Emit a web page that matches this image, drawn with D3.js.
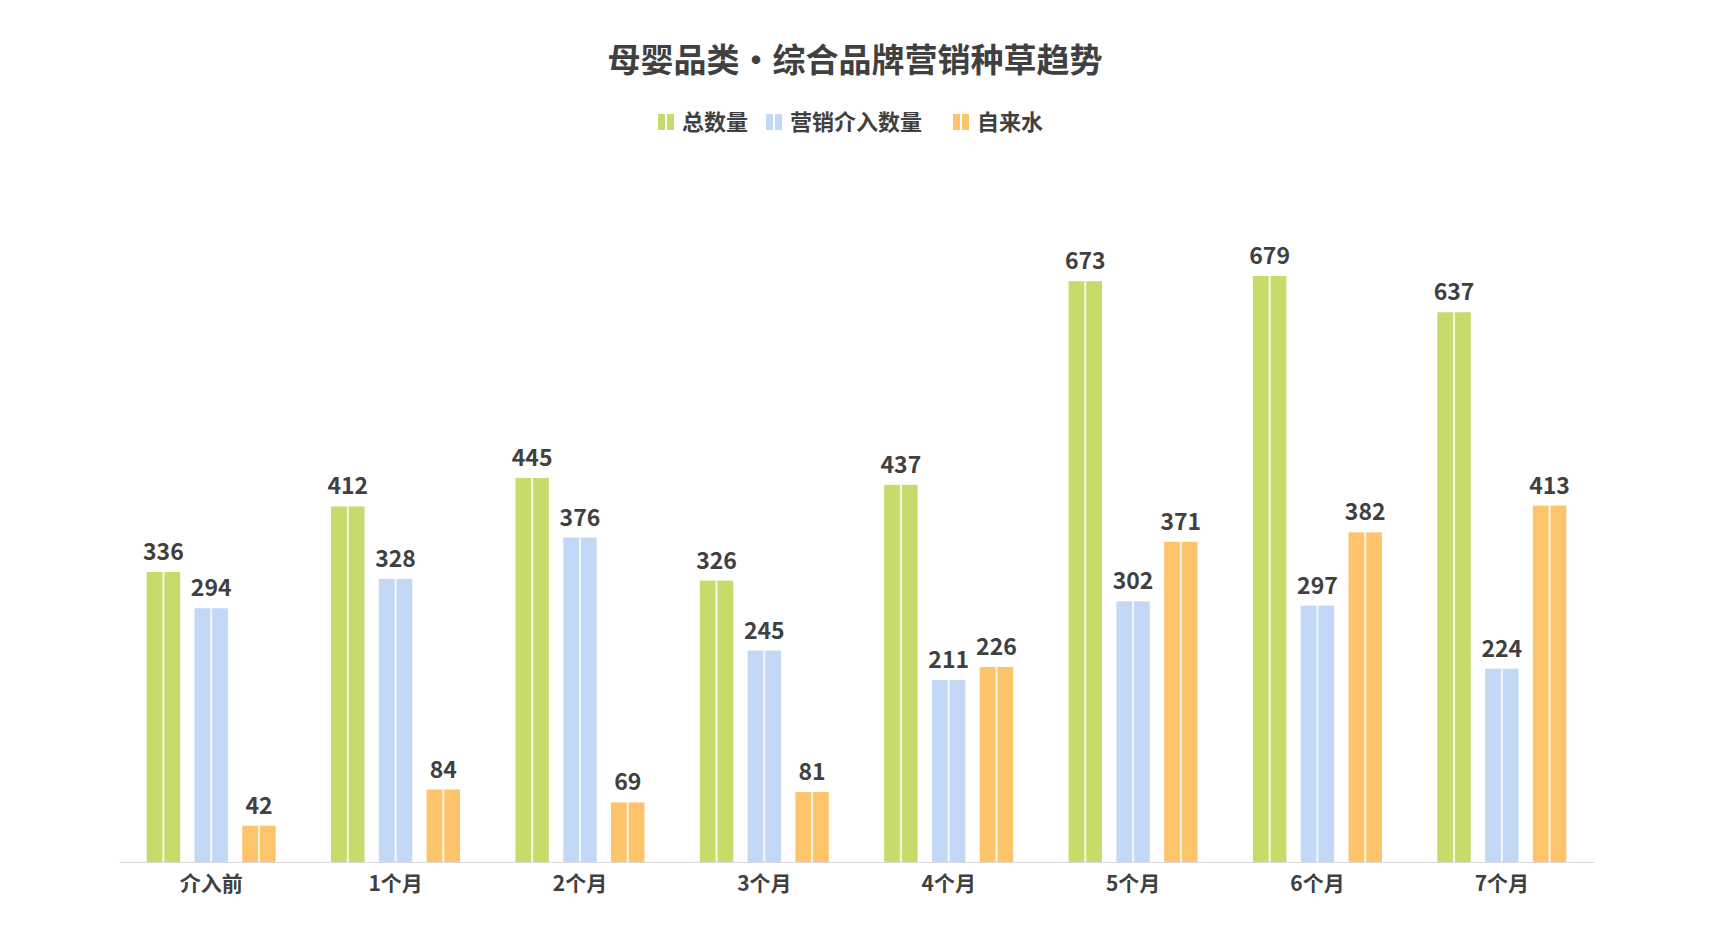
<!DOCTYPE html>
<html><head><meta charset="utf-8">
<script src="https://cdn.jsdelivr.net/npm/d3@7"></script>
<style>body{margin:0;background:#fff}text{font-family:"Noto Sans CJK SC","Noto Sans",sans-serif;font-weight:bold;fill:#404040}</style>
</head><body><svg id="c" width="1710" height="950"></svg>
<script>
const categories=["介入前","1个月","2个月","3个月","4个月","5个月","6个月","7个月"];
const seriesNames=["总数量","营销介入数量","自来水"];
const total=[336,412,445,326,437,673,679,637];
const marketing=[294,328,376,245,211,302,297,224];
const organic=[42,84,69,81,226,371,382,413];
const colors=["#c5dc6a","#c3d8f6","#fec46c"];
const series=[total,marketing,organic];

const svg=d3.select("#c");
const left=119,right=1594,base=862;
const x=d3.scaleBand().domain(categories).range([left,right]);
const y=d3.scaleLinear().domain([0,800]).range([base,base-800*0.863]);
const xs=d3.scaleBand().domain(d3.range(3)).range([0,129]).paddingInner(0.3);
const off=(x.bandwidth()-129)/2;

svg.append("text").attr("x",855).attr("y",72).attr("text-anchor","middle").attr("font-size",33).text("母婴品类·综合品牌营销种草趋势");

const lg=svg.append("g");
const lx=[658,766,953];
seriesNames.forEach((n,i)=>{
  lg.append("rect").attr("x",lx[i]).attr("y",114).attr("width",16).attr("height",16).attr("fill",colors[i]);
  lg.append("rect").attr("x",lx[i]+7).attr("y",114).attr("width",2).attr("height",16).attr("fill","#fff");
  lg.append("text").attr("x",lx[i]+24).attr("y",130).attr("font-size",22).text(n);
});

series.forEach((vals,si)=>{
  const g=svg.append("g");
  categories.forEach((c,ci)=>{
    const bx=x(c)+off+xs(si), bw=xs.bandwidth(), v=vals[ci];
    g.append("rect").attr("x",bx).attr("y",y(v)).attr("width",bw).attr("height",base-y(v)).attr("fill",colors[si]);
    g.append("rect").attr("x",bx+bw/2-1).attr("y",y(v)).attr("width",2).attr("height",base-y(v)).attr("fill","#fff").attr("opacity",0.8);
    g.append("text").attr("x",bx+bw/2).attr("y",y(v)-12).attr("text-anchor","middle").attr("font-size",23).text(v);
  });
});

const ax=svg.append("g").attr("transform",`translate(0,${base})`).call(d3.axisBottom(x).tickSize(0));
ax.select(".domain").attr("stroke","#d9d9d9");
ax.selectAll("text").attr("font-size",21).attr("dy",26).style("fill","#404040");
</script></body></html>
